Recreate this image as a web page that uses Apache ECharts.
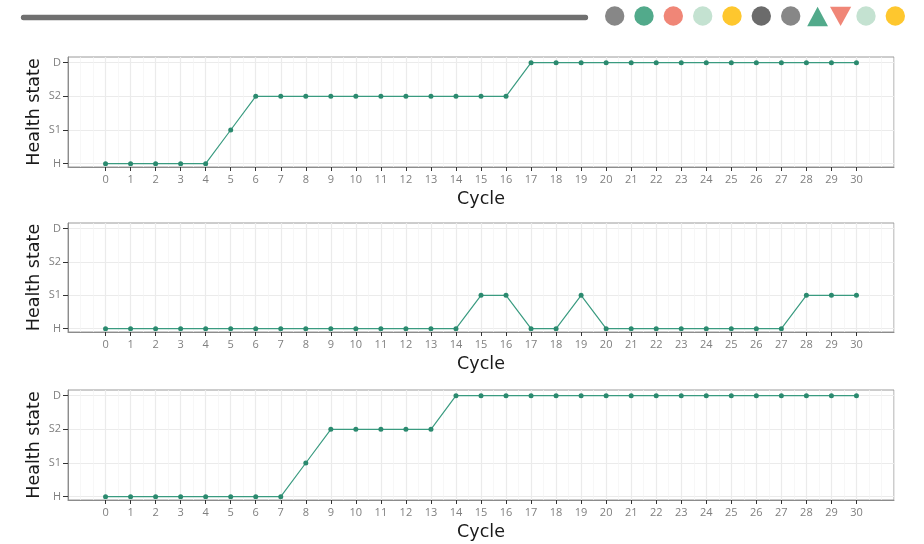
<!DOCTYPE html>
<html>
<head>
<meta charset="utf-8">
<script src="https://cdn.jsdelivr.net/npm/echarts@6/dist/echarts.min.js"></script>
<style>html,body{margin:0;padding:0;background:#fff}#c{width:924px;height:544px}</style>
</head>
<body>
<div id="c"></div>
<script>
const cycles = [0,1,2,3,4,5,6,7,8,9,10,11,12,13,14,15,16,17,18,19,20,21,22,23,24,25,26,27,28,29,30];
const stateLevels = ['H','S1','S2','D'];
const states1 = ['H','H','H','H','H','S1','S2','S2','S2','S2','S2','S2','S2','S2','S2','S2','S2','D','D','D','D','D','D','D','D','D','D','D','D','D','D'];
const states2 = ['H','H','H','H','H','H','H','H','H','H','H','H','H','H','H','S1','S1','H','H','S1','H','H','H','H','H','H','H','H','S1','S1','S1'];
const states3 = ['H','H','H','H','H','H','H','H','S1','S2','S2','S2','S2','S2','D','D','D','D','D','D','D','D','D','D','D','D','D','D','D','D','D'];
const panels = [states1, states2, states3];
const headerColors = ['#878787','#52aa8b','#f08677','#c4e2d1','#fec72e','#6b6b6b','#878787','#52aa8b','#f08677','#c4e2d1','#fec72e'];
const headerShapes = ['circle','circle','circle','circle','circle','circle','circle','triUp','triDown','circle','circle'];

const TICKFONT = 'Open Sans';
const TITLEFONT = 'DejaVu Sans';
const chart = echarts.init(document.getElementById('c'), null, {renderer:'canvas'});
const tops = [57, 223, 390];
const heights = [110, 109, 110];
const grids = [], xAxes = [], yAxes = [], series = [];
panels.forEach((st, i) => {
  grids.push({left:68, width:826, top:tops[i], height:heights[i], show:true, borderColor:'#9a9a9a', borderWidth:1, backgroundColor:'#fff', outerBoundsMode:'none', containLabel:false});
  xAxes.push({type:'value', gridIndex:i, position:'bottom', min:-1.5, max:31.5, interval:0.5, axisLine:{show:false}, axisTick:{show:false}, axisLabel:{show:false},
    splitLine:{show:true, lineStyle:{color:'#f3f3f3', width:0.7}}});
  xAxes.push({type:'value', gridIndex:i, position:'bottom', min:-1.5, max:31.5, name:'Cycle', nameLocation:'middle', nameGap:23, nameMoveOverlap:false,
    nameTextStyle:{fontFamily:TITLEFONT, fontSize:17.5, color:'#1a1a1a'},
    axisLine:{show:true, onZero:false, lineStyle:{color:'#8c8c8c', width:1}},
    axisTick:{show:true, length:4, customValues:cycles, lineStyle:{color:'#333', width:1}},
    axisLabel:{customValues:cycles, fontFamily:TICKFONT, fontSize:11, color:'#7f7f7f', margin:7},
    splitLine:{show:true, lineStyle:{color:'#ebebeb', width:1.2}}});
  yAxes.push({type:'value', gridIndex:i, min:-0.1, max:3.17, name:'Health state', nameLocation:'middle', nameGap:25, nameMoveOverlap:false,
    nameTextStyle:{fontFamily:TITLEFONT, fontSize:17.5, color:'#1a1a1a'},
    axisLine:{show:true, onZero:false, lineStyle:{color:'#8c8c8c', width:1}},
    axisTick:{show:true, length:5, customValues:[0,1,2,3], lineStyle:{color:'#333', width:1}},
    axisLabel:{customValues:[0,1,2,3], formatter:v => stateLevels[Math.round(v)], fontFamily:TICKFONT, fontSize:11, color:'#7f7f7f', margin:7},
    splitLine:{show:true, lineStyle:{color:'#ebebeb', width:1.2}}});
  series.push({type:'line', xAxisIndex:2*i+1, yAxisIndex:i,
    data: cycles.map((c, k) => [c, stateLevels.indexOf(st[k])]),
    symbol:'circle', symbolSize:5, showSymbol:true,
    lineStyle:{color:'#3a9b80', width:1.2}, itemStyle:{color:'#2b8a6f'}, emphasis:{disabled:true}, animation:false});
});

const headerX = [614.7, 644, 673.3, 702.7, 732, 761.3, 790.7, 817.6, 840.6, 866, 895.3];
const graphics = [{type:'line', shape:{x1:23.5, y1:17.5, x2:585.5, y2:17.5}, style:{stroke:'#707070', lineWidth:5.3, lineCap:'round'}}];
headerShapes.forEach((s, i) => {
  const cx = headerX[i];
  const col = headerColors[i];
  if (s === 'circle') {
    graphics.push({type:'circle', shape:{cx:cx, cy:16, r:9.7}, style:{fill:col}});
  } else if (s === 'triUp') {
    graphics.push({type:'polygon', shape:{points:[[cx-10.4,26.3],[cx+10.4,26.3],[cx,6.7]]}, style:{fill:col}});
  } else {
    graphics.push({type:'polygon', shape:{points:[[cx-10.6,6.7],[cx+10.6,6.7],[cx,26]]}, style:{fill:col}});
  }
});

chart.setOption({animation:false, grid:grids, xAxis:xAxes, yAxis:yAxes, series:series, graphic:graphics});
</script>
</body>
</html>
